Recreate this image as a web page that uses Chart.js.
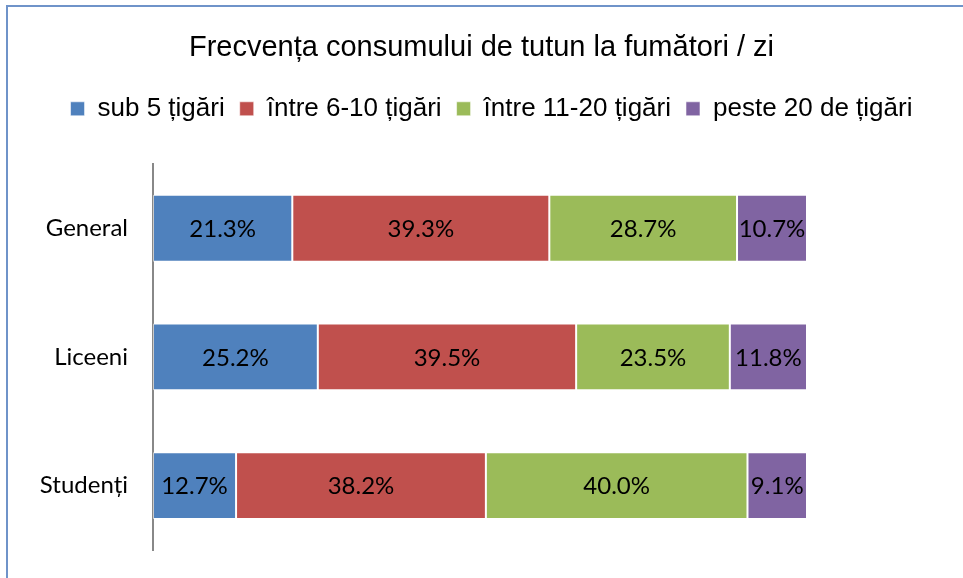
<!DOCTYPE html>
<html>
<head>
<meta charset="utf-8">
<script src="https://cdn.jsdelivr.net/npm/chart.js@4"></script>
<style>
  html, body { margin: 0; padding: 0; background: #fff; }
  #frame { position: absolute; left: 6px; top: 5px; width: 1000px; height: 600px;
           border-left: 2px solid #6f93c9; border-top: 2px solid #6f93c9; }
  #wrap { position: absolute; left: 0; top: 0; width: 963px; height: 578px; }
</style>
</head>
<body>
<div id="frame"></div>
<div id="wrap"><canvas id="myChart"></canvas></div>
<script>
var categories = ['General', 'Liceeni', 'Studenți'];
var sub5 = [21.3, 25.2, 12.7];
var intre6_10 = [39.3, 39.5, 38.2];
var intre11_20 = [28.7, 23.5, 40.0];
var peste20 = [10.7, 11.8, 9.1];

// draws the percentage inside every bar segment
var barLabels = {
    id: 'barLabels',
    afterDatasetsDraw: function(chart) {
        var ctx = chart.ctx;
        ctx.save();
        ctx.font = '24px Lato';
        ctx.fillStyle = '#000';
        ctx.textAlign = 'center';
        ctx.textBaseline = 'middle';
        chart.data.datasets.forEach(function(ds, i) {
            chart.getDatasetMeta(i).data.forEach(function(bar, j) {
                var cx = (bar.x + bar.base) / 2;
                ctx.fillText(ds.data[j].toFixed(1) + '%', cx, bar.y + 1);
            });
        });
        ctx.restore();
    }
};

// extra room under the legend, and nudge it a bit to the right
var legendGap = {
    id: 'legendGap',
    beforeInit: function(chart) {
        var fit = chart.legend.fit;
        chart.legend.fit = function() {
            fit.bind(chart.legend)();
            this.height += 32;
        };
        var draw = chart.legend.draw;
        chart.legend.draw = function() {
            chart.ctx.save();
            chart.ctx.translate(10, 0);
            draw.call(chart.legend);
            chart.ctx.restore();
        };
    }
};

var ctx = document.getElementById('myChart').getContext('2d');
var chart = new Chart(ctx, {
    type: 'bar',
    data: {
        labels: categories,
        datasets: [{
            label: 'sub 5 țigări',
            backgroundColor: '#4f81bd',
            data: sub5
        }, {
            label: 'între 6-10 țigări',
            backgroundColor: '#c0504d',
            data: intre6_10
        }, {
            label: 'între 11-20 țigări',
            backgroundColor: '#9bbb59',
            data: intre11_20
        }, {
            label: 'peste 20 de țigări',
            backgroundColor: '#8064a2',
            data: peste20
        }]
    },
    options: {
        indexAxis: 'y',
        responsive: true,
        maintainAspectRatio: false,
        animation: false,
        datasets: {
            bar: {
                barPercentage: 1,
                categoryPercentage: 0.52,
                borderWidth: 1,
                borderColor: 'rgba(255,255,255,0.55)',
                borderSkipped: false
            }
        },
        layout: { padding: { top: 0, bottom: 28, left: 0, right: 0 } },
        scales: {
            x: {
                stacked: true,
                min: 0,
                max: 100,
                display: false
            },
            y: {
                stacked: true,
                grid: { display: false, drawTicks: false },
                border: { display: true, color: '#888888', width: 2 },
                ticks: { color: '#000', font: { family: 'Lato', size: 24 }, padding: 25 },
                afterFit: function(scale) {
                    scale.width = 153;
                    scale.paddingTop = 0;
                    scale.paddingBottom = 0;
                }
            },
            y2: {
                position: 'right',
                display: true,
                grid: { display: false, drawTicks: false },
                border: { display: false },
                ticks: { display: false },
                afterFit: function(scale) {
                    scale.width = 156;
                    scale.paddingTop = 0;
                    scale.paddingBottom = 0;
                }
            }
        },
        plugins: {
            title: {
                display: true,
                text: 'Frecvența consumului de tutun la fumători / zi',
                color: '#000',
                font: { family: 'Liberation Sans', size: 29, weight: 'normal' },
                padding: { top: 31, bottom: 15 }
            },
            legend: {
                position: 'top',
                labels: {
                    color: '#000',
                    font: { family: 'Liberation Sans', size: 26 },
                    boxWidth: 14,
                    boxHeight: 14,
                    padding: 15
                }
            },
            tooltip: { enabled: false }
        }
    },
    plugins: [barLabels, legendGap]
});
</script>
</body>
</html>
